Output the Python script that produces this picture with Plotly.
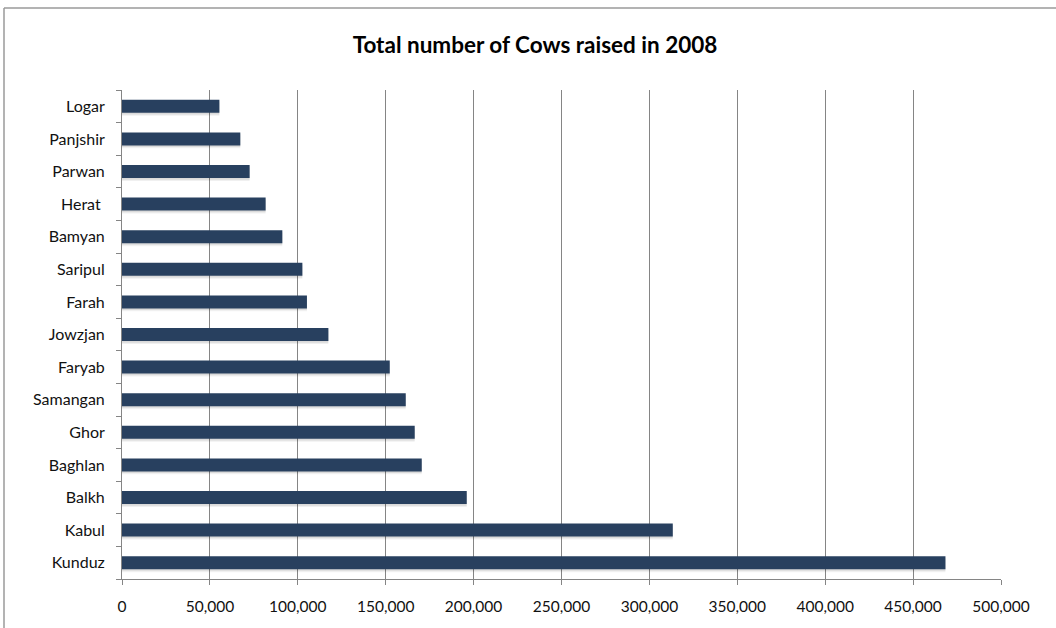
import plotly.graph_objects as go

categories = ["Kunduz", "Kabul", "Balkh", "Baghlan", "Ghor", "Samangan", "Faryab",
              "Jowzjan", "Farah", "Saripul", "Bamyan", "Herat ", "Parwan", "Panjshir", "Logar"]
cows = [468400, 313300, 196100, 170500, 166500, 161400, 152300,
        117400, 105200, 102600, 91200, 81700, 72600, 67300, 55400]
x_ticks = [0, 50000, 100000, 150000, 200000, 250000, 300000, 350000, 400000, 450000, 500000]
x_tick_labels = ["0", "50,000", "100,000", "150,000", "200,000", "250,000",
                 "300,000", "350,000", "400,000", "450,000", "500,000"]
title = "Total number of Cows raised in 2008"

W, H = 1056, 628
L, R, T, B = 122, 55, 90, 49
pw = W - L - R
ph = H - T - B

fig = go.Figure()
# soft drop shadow (two layers)
fig.add_trace(go.Bar(y=categories, x=cows, orientation="h", width=0.4, offset=-0.29,
                     marker=dict(color="rgba(0,0,0,0.06)", line=dict(width=0)),
                     hoverinfo="skip", showlegend=False))
fig.add_trace(go.Bar(y=categories, x=cows, orientation="h", width=0.4, offset=-0.25,
                     marker=dict(color="rgba(0,0,0,0.09)", line=dict(width=0)),
                     hoverinfo="skip", showlegend=False))
fig.add_trace(go.Bar(y=categories, x=cows, orientation="h", width=0.4, offset=-0.2,
                     marker=dict(color="#28405F", line=dict(width=0)),
                     showlegend=False))

fig.update_layout(
    width=W, height=H,
    margin=dict(l=L, r=R, t=T, b=B),
    paper_bgcolor="white", plot_bgcolor="white",
    barmode="overlay",
    font=dict(family="Lato, Open Sans, sans-serif", size=15, color="#111"),
    title=dict(text="<b>" + title + "</b>", x=535 / W, xanchor="center", xref="container",
               y=1 - 45 / H, yanchor="middle", yref="container",
               font=dict(size=22.5, family="Lato, Open Sans, sans-serif", color="#000")),
    xaxis=dict(range=[0, 500000], tickvals=x_ticks, ticktext=x_tick_labels,
               showgrid=True, gridcolor="#858585", gridwidth=1,
               showline=True, linecolor="#858585", linewidth=1,
               ticks="outside", ticklen=5, tickcolor="#858585",
               ticklabelstandoff=8,
               zeroline=False, fixedrange=True,
               tickfont=dict(size=15.5)),
    yaxis=dict(type="category", categoryorder="array", categoryarray=categories,
               range=[-0.5, len(categories) - 0.5],
               showline=True, linecolor="#858585", linewidth=1,
               ticks="outside", ticklen=5, tickcolor="#858585", tickson="boundaries",
               ticklabelstandoff=13, showgrid=False, fixedrange=True,
               tickfont=dict(size=16)),
    shapes=[
        dict(type="line", xref="paper", yref="paper",
             x0=(4 - L) / pw, x1=(W - L) / pw, y0=(H - B - 8) / ph, y1=(H - B - 8) / ph,
             line=dict(color="#9a9a9a", width=1.5)),
        dict(type="line", xref="paper", yref="paper",
             x0=(4 - L) / pw, x1=(4 - L) / pw, y0=(H - B - 8) / ph, y1=-B / ph - 0.01,
             line=dict(color="#9a9a9a", width=1.5)),
    ],
)

fig.write_html("out.html")
